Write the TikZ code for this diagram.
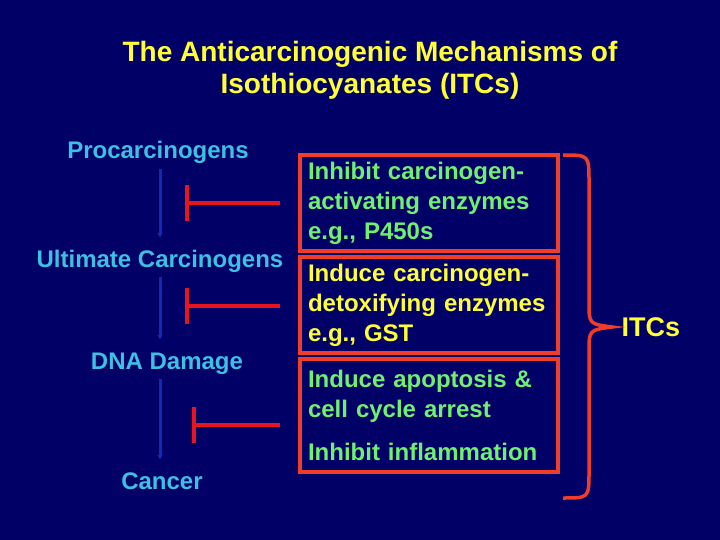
\documentclass[tikz,border=0pt]{standalone}
\usepackage{fontspec}
\setmainfont{Liberation Sans}
\usetikzlibrary{arrows.meta, positioning}
\definecolor{slideNavy}{HTML}{000066}
\definecolor{titleYellow}{HTML}{FFFF33}
\definecolor{stageCyan}{HTML}{3CC0E4}
\definecolor{mechGreen}{HTML}{70F070}
\definecolor{boxRed}{HTML}{F03C28}
\definecolor{blockRed}{HTML}{E8141E}
\definecolor{flowBlue}{HTML}{1428B4}

\begin{document}
\begin{tikzpicture}[
    x=1pt, y=-1pt,
    stage/.style={text=stageCyan, font=\fontsize{24}{28}\selectfont\bfseries, inner sep=0pt, text height=17pt, text depth=5pt},
    mech/.style={draw=boxRed, line width=4pt, minimum width=258pt, inner xsep=8pt, text width=242pt, align=left, font=\fontsize{24}{30}\selectfont\bfseries},
    flow/.style={flowBlue, line width=3pt, -{Latex[length=5pt, width=6pt]}, shorten <=5pt, shorten >=12pt},
    inhibit/.style={blockRed, line width=3.5pt, -{Bar[width=36pt]}, shorten <=18pt},
]
    \fill[slideNavy] (0,0) rectangle (720,540);
    \useasboundingbox (0,0) rectangle (720,540);

    \node[text=titleYellow, align=center, font=\fontsize{28}{32}\selectfont\bfseries] (title) at (370,70)
        {The Anticarcinogenic Mechanisms of\\Isothiocyanates (ITCs)};

    % carcinogenesis steps
    \node[stage] (pro) at (158,153) {Procarcinogens};
    \node[stage] (ult) at (160,261) {Ultimate Carcinogens};
    \node[stage] (dna) at (167,363) {DNA Damage};
    \node[stage] (can) at (162,483) {Cancer};

    \draw[flow] (pro.south -| ult.north) -- (ult.north);
    \draw[flow] (ult.south) -- (ult.south |- dna.north);
    \draw[flow] (ult.south |- dna.south) -- (ult.south |- can.north);

    % ITC mechanisms
    \node[mech, text=mechGreen, minimum height=96pt] (act) at (429,203)
        {Inhibit carcinogen-\\activating enzymes\\e.g., P450s};
    \node[mech, text=titleYellow, minimum height=96pt] (detox) at (429,305)
        {Induce carcinogen-\\detoxifying enzymes\\e.g., GST};
    \node[mech, text=mechGreen, minimum height=113pt] (apop) at (429,415.5)
        {Induce apoptosis \&\\cell cycle arrest\\[13pt]Inhibit inflammation};

    \coordinate (stop1) at (185,203);
    \coordinate (stop2) at (185,306);
    \coordinate (stop3) at (192,425);
    \draw[inhibit] (stop1 -| act.west) -- (stop1);
    \draw[inhibit] (stop2 -| detox.west) -- (stop2);
    \draw[inhibit] (stop3 -| apop.west) -- (stop3);

    \node[text=titleYellow, anchor=west, font=\fontsize{27}{30}\selectfont\bfseries] (itc) at (618,327) {ITCs};

    % brace
    \draw[boxRed, line width=3.5pt, line join=miter]
        (563,155) .. controls (589,155) .. (589,182) -- (589,302)
        .. controls (589,324) .. (612,327)
        .. controls (589,330) .. (589,352) -- (589,472)
        .. controls (589,498) .. (563,498);
\end{tikzpicture}
\end{document}
